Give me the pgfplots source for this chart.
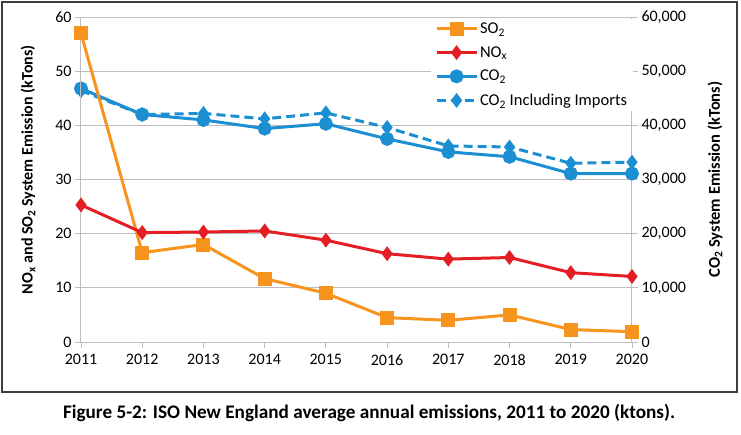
\documentclass[border=0pt]{standalone}
\usepackage{fontspec}
\setmainfont{Carlito}
\usepackage{pgfplots}
\pgfplotsset{compat=1.18}
\definecolor{so2}{RGB}{247,148,30}
\definecolor{nox}{RGB}{227,30,36}
\definecolor{co2}{RGB}{28,143,210}
\definecolor{gridc}{RGB}{190,190,190}
\definecolor{framec}{RGB}{60,60,60}

\pgfplotstableread{
year so2 nox co2 co2imp
2011 57.0 25.3 46800 46400
2012 16.5 20.2 42000 42000
2013 18.0 20.3 41000 42200
2014 11.7 20.5 39400 41200
2015  9.0 18.8 40300 42300
2016  4.5 16.3 37500 39600
2017  4.0 15.3 35100 36200
2018  5.0 15.6 34200 36000
2019  2.3 12.8 31100 33000
2020  1.9 12.1 31100 33200
}\datatable

\begin{document}
\begin{tikzpicture}[x=1pt,y=1pt]
\useasboundingbox (0,0) rectangle (741,-435);
\draw[line width=2pt, framec] (2,-2) rectangle (737,-392);
\pgfplotsset{
 every axis/.append style={
  scale only axis, width=551pt, height=325pt,
  at={(81pt,-342pt)}, anchor=south west,
  xmin=2011, xmax=2020, xtick={2011,...,2020},
  tick align=outside, major tick length=6pt,
  tick style={gridc, line width=0.8pt},
  axis line style={gridc, line width=1pt},
  tick label style={font=\fontsize{16}{19}\selectfont},
  /pgf/number format/assume math mode=true,
  xticklabel style={/pgf/number format/1000 sep={}, yshift=-3pt},
  clip=false,
 }
}
\begin{axis}[
  axis y line*=right, axis x line=none,
  ymin=0, ymax=60000, ytick={0,10000,...,60000},
  scaled y ticks=false,
  yticklabel style={/pgf/number format/1000 sep={,}},
  ymajorgrids, grid style={gridc, line width=1pt},
  ylabel={CO\textsubscript{2} System Emission (kTons)},
  ylabel style={font=\bfseries\fontsize{16.5}{19}\selectfont, at={(axis description cs:1.1506,0.5)}, anchor=center},
]
\addplot[co2, line width=3pt, mark=*, mark size=5.5pt, mark options={solid}] table[x=year,y=co2] {\datatable};
\addplot[co2, line width=3pt, dash pattern=on 9pt off 5pt, mark=diamond*, mark size=5pt, mark options={solid}] table[x=year,y=co2imp] {\datatable};
\end{axis}
\begin{axis}[
  axis y line*=left, axis x line*=bottom,
  ymin=0, ymax=60, ytick={0,10,...,60},
  ylabel={NO\textsubscript{x} and SO\textsubscript{2} System Emission (kTons)},
  ylabel style={font=\bfseries\fontsize{16}{19}\selectfont, at={(axis description cs:-0.096,0.53)}, anchor=center},
  legend style={at={(axis description cs:0.635,0.995)}, anchor=north west, fill=white, draw=none,
    font=\fontsize{16.5}{19}\selectfont, row sep=7.5pt, inner xsep=4pt},
  legend cell align=left,
  legend image code/.code={\draw[mark repeat=2, mark phase=2] plot coordinates {(0pt,0pt) (20pt,0pt) (40pt,0pt)};},
]
\addplot[so2, line width=3pt, mark=square*, mark size=5.5pt] table[x=year,y=so2] {\datatable};
\addlegendentry{SO\textsubscript{2}}
\addplot[nox, line width=3pt, mark=diamond*, mark size=5pt] table[x=year,y=nox] {\datatable};
\addlegendentry{NO\textsubscript{x}}
\addlegendimage{co2, line width=3pt, mark=*, mark size=5.5pt}
\addlegendentry{CO\textsubscript{2}}
\addlegendimage{co2, line width=3pt, dash pattern=on 9pt off 5pt, mark=diamond*, mark size=5pt, mark options={solid}}
\addlegendentry{CO\textsubscript{2} Including Imports}
\end{axis}
\node[font=\bfseries\fontsize{19.2}{23}\selectfont, anchor=center] at (369,-413) {Figure 5-2: ISO New England average annual emissions, 2011 to 2020 (ktons).};
\end{tikzpicture}
\end{document}
